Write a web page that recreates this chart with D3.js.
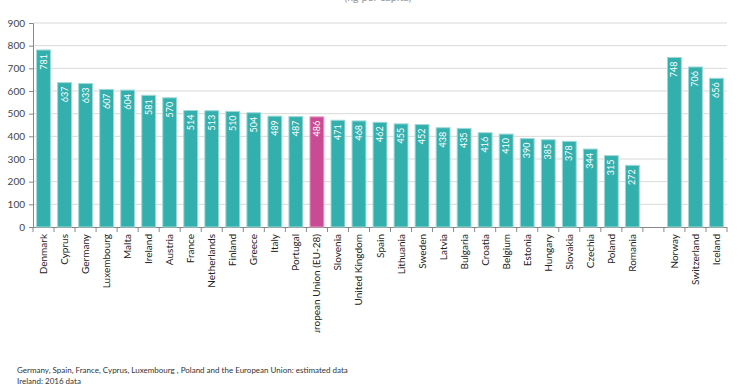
<!DOCTYPE html>
<html>
<head>
<meta charset="utf-8">
<script src="https://cdn.jsdelivr.net/npm/d3@7"></script>
<style>
  body { margin: 0; background: #fff; font-family: Lato, "Open Sans", sans-serif; }
  svg text { font-family: Lato, "Open Sans", sans-serif; }
</style>
</head>
<body>
<svg id="chart" width="740" height="389"></svg>
<script>
// municipal waste per capita, kg
var countries = ["Denmark", "Cyprus", "Germany", "Luxembourg", "Malta", "Ireland", "Austria", "France",
  "Netherlands", "Finland", "Greece", "Italy", "Portugal", "European Union (EU-28)", "Slovenia",
  "United Kingdom", "Spain", "Lithuania", "Sweden", "Latvia", "Bulgaria", "Croatia", "Belgium",
  "Estonia", "Hungary", "Slovakia", "Czechia", "Poland", "Romania", "", "Norway", "Switzerland", "Iceland"];
var values = [781, 637, 633, 607, 604, 581, 570, 514, 513, 510, 504, 489, 487, 486, 471, 468, 462,
  455, 452, 438, 435, 416, 410, 390, 385, 378, 344, 315, 272, null, 748, 706, 656];
var yTicks = [0, 100, 200, 300, 400, 500, 600, 700, 800, 900];
var notes = [
  "Germany, Spain,  France, Cyprus, Luxembourg , Poland and the European Union: estimated data",
  "Ireland: 2016 data"
];

var svg = d3.select("#chart");
var mLeft = 33, mRight = 727, mTop = 23, mBottom = 227;

var slots = countries.map(function (c, i) { return i; });
var x = d3.scaleBand().domain(slots).range([mLeft, mRight]).paddingInner(0.34).paddingOuter(0.17);
var y = d3.scaleLinear().domain([0, 900]).range([mBottom, mTop]);

// clip for category labels (the original crops the longest one)
svg.append("clipPath").attr("id", "labclip")
  .append("rect").attr("x", 0).attr("y", mBottom).attr("width", 740).attr("height", 106);

// faint title, mostly cut off at top
svg.append("text")
  .attr("x", 378).attr("y", 1)
  .attr("text-anchor", "middle")
  .attr("font-size", 11).attr("fill", "#999")
  .text("(kg per capita)");

// gridlines
svg.append("g").selectAll("line")
  .data(yTicks.filter(function (t) { return t > 0; }))
  .enter().append("line")
  .attr("x1", mLeft).attr("x2", mRight)
  .attr("y1", function (d) { return y(d); })
  .attr("y2", function (d) { return y(d); })
  .attr("stroke", "#d9d9d9").attr("stroke-width", 1);

// y axis
var yAxis = svg.append("g")
  .attr("transform", "translate(" + mLeft + ",0)")
  .call(d3.axisLeft(y).tickValues(yTicks).tickSize(4).tickPadding(4));
yAxis.select(".domain").attr("stroke", "#888");
yAxis.selectAll(".tick line").attr("stroke", "#888");
yAxis.selectAll("text").attr("font-size", 10).attr("fill", "#444");

// x axis line and category ticks between bars
svg.append("line")
  .attr("x1", mLeft).attr("x2", mRight)
  .attr("y1", mBottom + 0.5).attr("y2", mBottom + 0.5)
  .attr("stroke", "#888");
svg.append("g").selectAll("line")
  .data(d3.range(countries.length + 1))
  .enter().append("line")
  .attr("x1", function (i) { return mLeft + i * x.step(); })
  .attr("x2", function (i) { return mLeft + i * x.step(); })
  .attr("y1", mBottom).attr("y2", mBottom + 5)
  .attr("stroke", "#888");

var data = countries.map(function (c, i) { return { name: c, value: values[i], i: i }; })
  .filter(function (d) { return d.value != null; });

// bars
svg.append("g").selectAll("rect")
  .data(data)
  .enter().append("rect")
  .attr("x", function (d) { return x(d.i); })
  .attr("width", x.bandwidth())
  .attr("y", function (d) { return y(d.value); })
  .attr("height", function (d) { return y(0) - y(d.value); })
  .attr("fill", function (d) { return d.name.indexOf("European Union") === 0 ? "#c94b93" : "#33b0ad"; })
  .attr("stroke", function (d) { return d.name.indexOf("European Union") === 0 ? "#e3a0c6" : "#9fd9d7"; })
  .attr("stroke-width", 1);

// value labels, rotated inside bars
svg.append("g").selectAll("text")
  .data(data)
  .enter().append("text")
  .attr("transform", function (d) {
    return "translate(" + (x(d.i) + x.bandwidth() / 2 + 3) + "," + (y(d.value) + 4) + ") rotate(-90)";
  })
  .attr("text-anchor", "end")
  .attr("font-size", 9).attr("fill", "#fff")
  .text(function (d) { return d.value; });

// category labels
svg.append("g").attr("clip-path", "url(#labclip)").selectAll("text")
  .data(data)
  .enter().append("text")
  .attr("transform", function (d) {
    return "translate(" + (x(d.i) + x.bandwidth() / 2 + 3.5) + "," + (mBottom + 7) + ") rotate(-90)";
  })
  .attr("text-anchor", "end")
  .attr("font-size", 10).attr("fill", "#222")
  .text(function (d) { return d.name; });

// notes
svg.append("g").selectAll("text")
  .data(notes)
  .enter().append("text")
  .attr("x", 17)
  .attr("y", function (d, i) { return 373 + i * 11; })
  .attr("font-size", 8).attr("fill", "#333")
  .text(function (d) { return d; });
</script>
</body>
</html>
